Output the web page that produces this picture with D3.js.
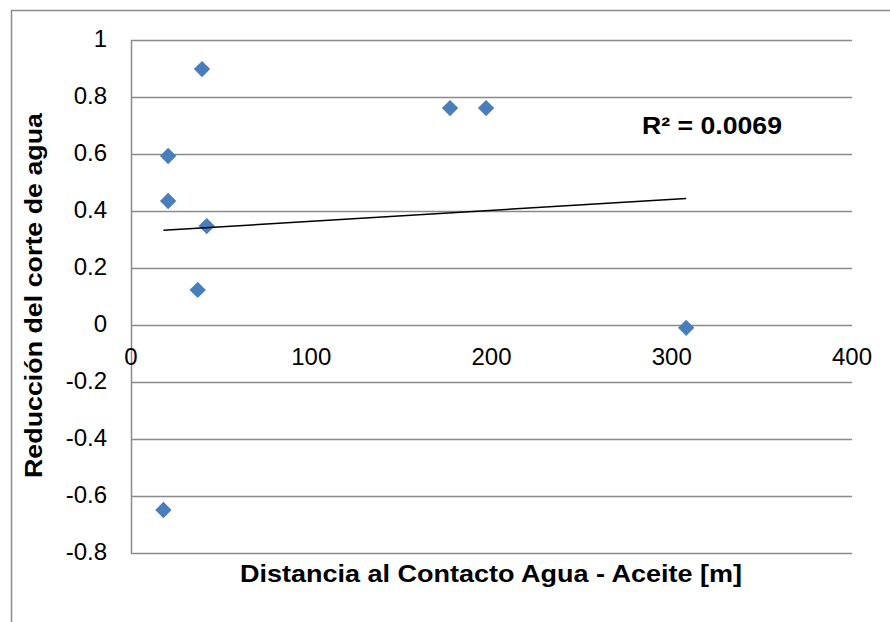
<!DOCTYPE html>
<html><head><meta charset="utf-8">
<script src="https://cdnjs.cloudflare.com/ajax/libs/d3/7.8.5/d3.min.js"></script>
<style>body{margin:0;background:#fff;} svg{display:block;font-family:"Liberation Sans",Arial,sans-serif;}</style>
</head><body><svg id="c" width="890" height="622"></svg>
<script>
const distances = [39.4, 177, 197, 20.6, 20.6, 42, 37, 308, 18];
const reductions = [0.898, 0.761, 0.761, 0.593, 0.435, 0.347, 0.123, -0.01, -0.649];
const xTicks = [0, 100, 200, 300, 400];
const yTicks = [-0.8, -0.6, -0.4, -0.2, 0, 0.2, 0.4, 0.6, 0.8, 1];
const xTitle = "Distancia al Contacto Agua - Aceite [m]";
const yTitle = "Reducción del corte de agua";
const r2Label = "R² = 0.0069";

const svg = d3.select("#c");
const L = 131, R = 852, T = 40, B = 553;
const x = d3.scaleLinear().domain([0, 400]).range([L, R]);
const y = d3.scaleLinear().domain([-0.8, 1]).range([B, T]);
const fmt = d => String(Math.round(d * 10) / 10);

// outer chart border
svg.append("rect").attr("x", 11.5).attr("y", 10.5).attr("width", 900).attr("height", 700)
  .attr("fill", "none").attr("stroke", "#8c8c8c").attr("stroke-width", 1.5);

// gridlines
svg.append("g").selectAll("line").data(yTicks).join("line")
  .attr("x1", L).attr("x2", R).attr("y1", d => Math.round(y(d)) + 0.5).attr("y2", d => Math.round(y(d)) + 0.5)
  .attr("stroke", "#8a8a8a").attr("stroke-width", 1.5);
// left axis line
svg.append("line").attr("x1", L + 0.5).attr("x2", L + 0.5).attr("y1", T).attr("y2", B + 1)
  .attr("stroke", "#8a8a8a").attr("stroke-width", 1.5);

// y tick labels
svg.append("g").selectAll("text").data(yTicks).join("text")
  .attr("x", 107).attr("y", d => y(d) + 7).attr("text-anchor", "end")
  .attr("font-size", 24).attr("fill", "#000").text(fmt);
// x tick labels
svg.append("g").selectAll("text").data(xTicks).join("text")
  .attr("x", d => x(d)).attr("y", y(0) + 40).attr("text-anchor", "middle")
  .attr("font-size", 24).attr("fill", "#000").text(d => d);

// markers
const diamond = d3.symbol().type(d3.symbolDiamond2).size(170);
svg.append("g").selectAll("path").data(distances.map((d, i) => [d, reductions[i]])).join("path")
  .attr("d", diamond).attr("transform", d => `translate(${x(d[0])},${y(d[1])})`)
  .attr("fill", "#4a7ebb");

// linear trendline (least squares)
const n = distances.length;
const mx = d3.mean(distances), my = d3.mean(reductions);
let sxy = 0, sxx = 0;
for (let i = 0; i < n; i++) { sxy += (distances[i] - mx) * (reductions[i] - my); sxx += (distances[i] - mx) ** 2; }
const slope = sxy / sxx, icpt = my - slope * mx;
const x0 = d3.min(distances), x1 = d3.max(distances);
svg.append("line").attr("x1", x(x0)).attr("y1", y(icpt + slope * x0)).attr("x2", x(x1)).attr("y2", y(icpt + slope * x1))
  .attr("stroke", "#000").attr("stroke-width", 1.5);

// R² label
svg.append("text").attr("x", 642).attr("y", 134).attr("font-size", 24).attr("font-weight", "bold")
  .attr("textLength", 140).attr("lengthAdjust", "spacingAndGlyphs").text(r2Label);

// axis titles
svg.append("text").attr("x", 240).attr("y", 582)
  .attr("font-size", 24).attr("font-weight", "bold")
  .attr("textLength", 502).attr("lengthAdjust", "spacingAndGlyphs").text(xTitle);
svg.append("text").attr("transform", "translate(42,478) rotate(-90)")
  .attr("font-size", 24).attr("font-weight", "bold")
  .attr("textLength", 365).attr("lengthAdjust", "spacingAndGlyphs").text(yTitle);
</script></body></html>
